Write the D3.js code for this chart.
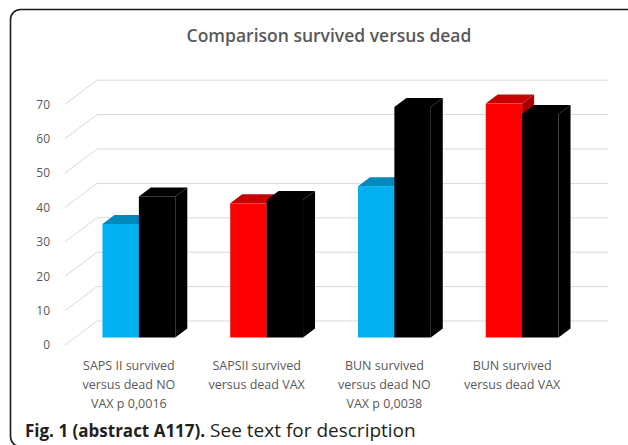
<!DOCTYPE html>
<html>
<head>
<meta charset="utf-8">
<script src="https://cdn.jsdelivr.net/npm/d3@7/dist/d3.min.js"></script>
<style>
  html, body { margin: 0; padding: 0; background: #fff; }
  svg { display: block; }
</style>
</head>
<body>
<script>
// ---- data ----
const categories = ["SAPS II NO VAX", "SAPSII VAX", "BUN NO VAX", "BUN VAX"];
const categoryLabels = [
  ["SAPS II survived", "versus dead NO", "VAX p 0,0016"],
  ["SAPSII survived", "versus dead VAX"],
  ["BUN survived", "versus dead NO", "VAX p 0,0038"],
  ["BUN survived", "versus dead VAX"]
];
const series = ["survived", "dead"];
const survivedValues = [33, 39, 44, 68];
const deadValues = [41, 40, 67, 65];
const survivedColors = ["#00b0f0", "#ff0000", "#00b0f0", "#ff0000"];
const yTicks = [0, 10, 20, 30, 40, 50, 60, 70];
const titleText = "Comparison survived versus dead";
const captionBold = "Fig. 1 (abstract A117).";
const captionRest = " See text for description";

// ---- layout ----
const W = 628, H = 445;
const svg = d3.select("body").append("svg").attr("width", W).attr("height", H);

// frame
svg.append("rect")
  .attr("x", 10.5).attr("y", 9.5)
  .attr("width", 700).attr("height", 437)
  .attr("rx", 10).attr("ry", 10)
  .attr("fill", "none").attr("stroke", "#1a1a1a").attr("stroke-width", 1.6);

// title
svg.append("text")
  .attr("x", 329).attr("y", 42)
  .attr("text-anchor", "middle")
  .attr("font-family", "Open Sans, sans-serif")
  .attr("font-weight", 600)
  .attr("font-size", 17.5)
  .attr("fill", "#595959")
  .text(titleText);

// 3D projection params
const DX = 32, DY = 24;          // floor depth offset
const d0 = 0.3125, d1 = 0.6875;  // bar depth range
const frontLeft = 65, frontRight = 576, backRight = 608;

const y = d3.scaleLinear().domain([0, 70]).range([345, 104.2]);
const x0 = d3.scaleBand().domain(categories).range([frontLeft, frontRight])
  .paddingInner(0.43).paddingOuter(0.215);
const x1 = d3.scaleBand().domain(series).range([0, x0.bandwidth()]);

const grid = svg.append("g");
yTicks.forEach(t => {
  grid.append("line")
    .attr("x1", frontLeft).attr("y1", y(t))
    .attr("x2", frontLeft + DX).attr("y2", y(t) - DY)
    .attr("stroke", "#d9d9d9").attr("stroke-width", 1);
  grid.append("line")
    .attr("x1", frontLeft + DX).attr("y1", y(t) - DY)
    .attr("x2", backRight).attr("y2", y(t) - DY)
    .attr("stroke", "#d9d9d9").attr("stroke-width", 1);
});

// y axis labels
const yAxis = d3.axisLeft(y).tickValues(yTicks).tickSize(0).tickPadding(0);
const ga = svg.append("g").attr("transform", `translate(${frontLeft - 15},0)`).call(yAxis);
ga.select(".domain").remove();
ga.selectAll("text")
  .attr("font-family", "Open Sans, sans-serif")
  .attr("font-size", 12)
  .attr("fill", "#595959");

// bars
function shade(c, k) { return d3.rgb(c).darker(k).formatHex(); }
const bars = svg.append("g");
categories.forEach((c, i) => {
  const vals = [survivedValues[i], deadValues[i]];
  const cols = [survivedColors[i], "#000000"];
  series.forEach((s, j) => {
    const v = vals[j];
    const xl = x0(c) + x1(s), xr = xl + x1.bandwidth();
    const ax = d0 * DX, ay = d0 * DY, bx = d1 * DX, by = d1 * DY;
    const yT = y(v), yB = y(0);
    const g = bars.append("g");
    g.append("polygon")
      .attr("points", [[xr + ax, yT - ay], [xr + bx, yT - by], [xr + bx, yB - by], [xr + ax, yB - ay]].join(" "))
      .attr("fill", j === 1 ? "#000" : shade(cols[j], 1.2));
    g.append("polygon")
      .attr("points", [[xl + ax, yT - ay], [xr + ax, yT - ay], [xr + bx, yT - by], [xl + bx, yT - by]].join(" "))
      .attr("fill", j === 1 ? "#000" : shade(cols[j], 0.7));
    g.append("rect")
      .attr("x", xl + ax).attr("y", yT - ay)
      .attr("width", xr - xl).attr("height", yB - yT)
      .attr("fill", cols[j]);
  });
});

// category labels
const lab = svg.append("g");
categories.forEach((c, i) => {
  const cx = x0(c) + x0.bandwidth() / 2;
  const t = lab.append("text")
    .attr("text-anchor", "middle")
    .attr("font-family", "Open Sans, sans-serif")
    .attr("font-size", 12.5)
    .attr("fill", "#595959");
  categoryLabels[i].forEach((line, k) => {
    t.append("tspan").attr("x", cx).attr("y", 370 + k * 19).text(line);
  });
});

// caption
const cap = svg.append("text")
  .attr("x", 25).attr("y", 437)
  .attr("font-family", "Open Sans, sans-serif")
  .attr("fill", "#231f20");
cap.append("tspan").attr("font-weight", 700).attr("font-size", 17).text(captionBold);
cap.append("tspan").attr("font-weight", 400).attr("font-size", 19).text(captionRest);
</script>
</body>
</html>
